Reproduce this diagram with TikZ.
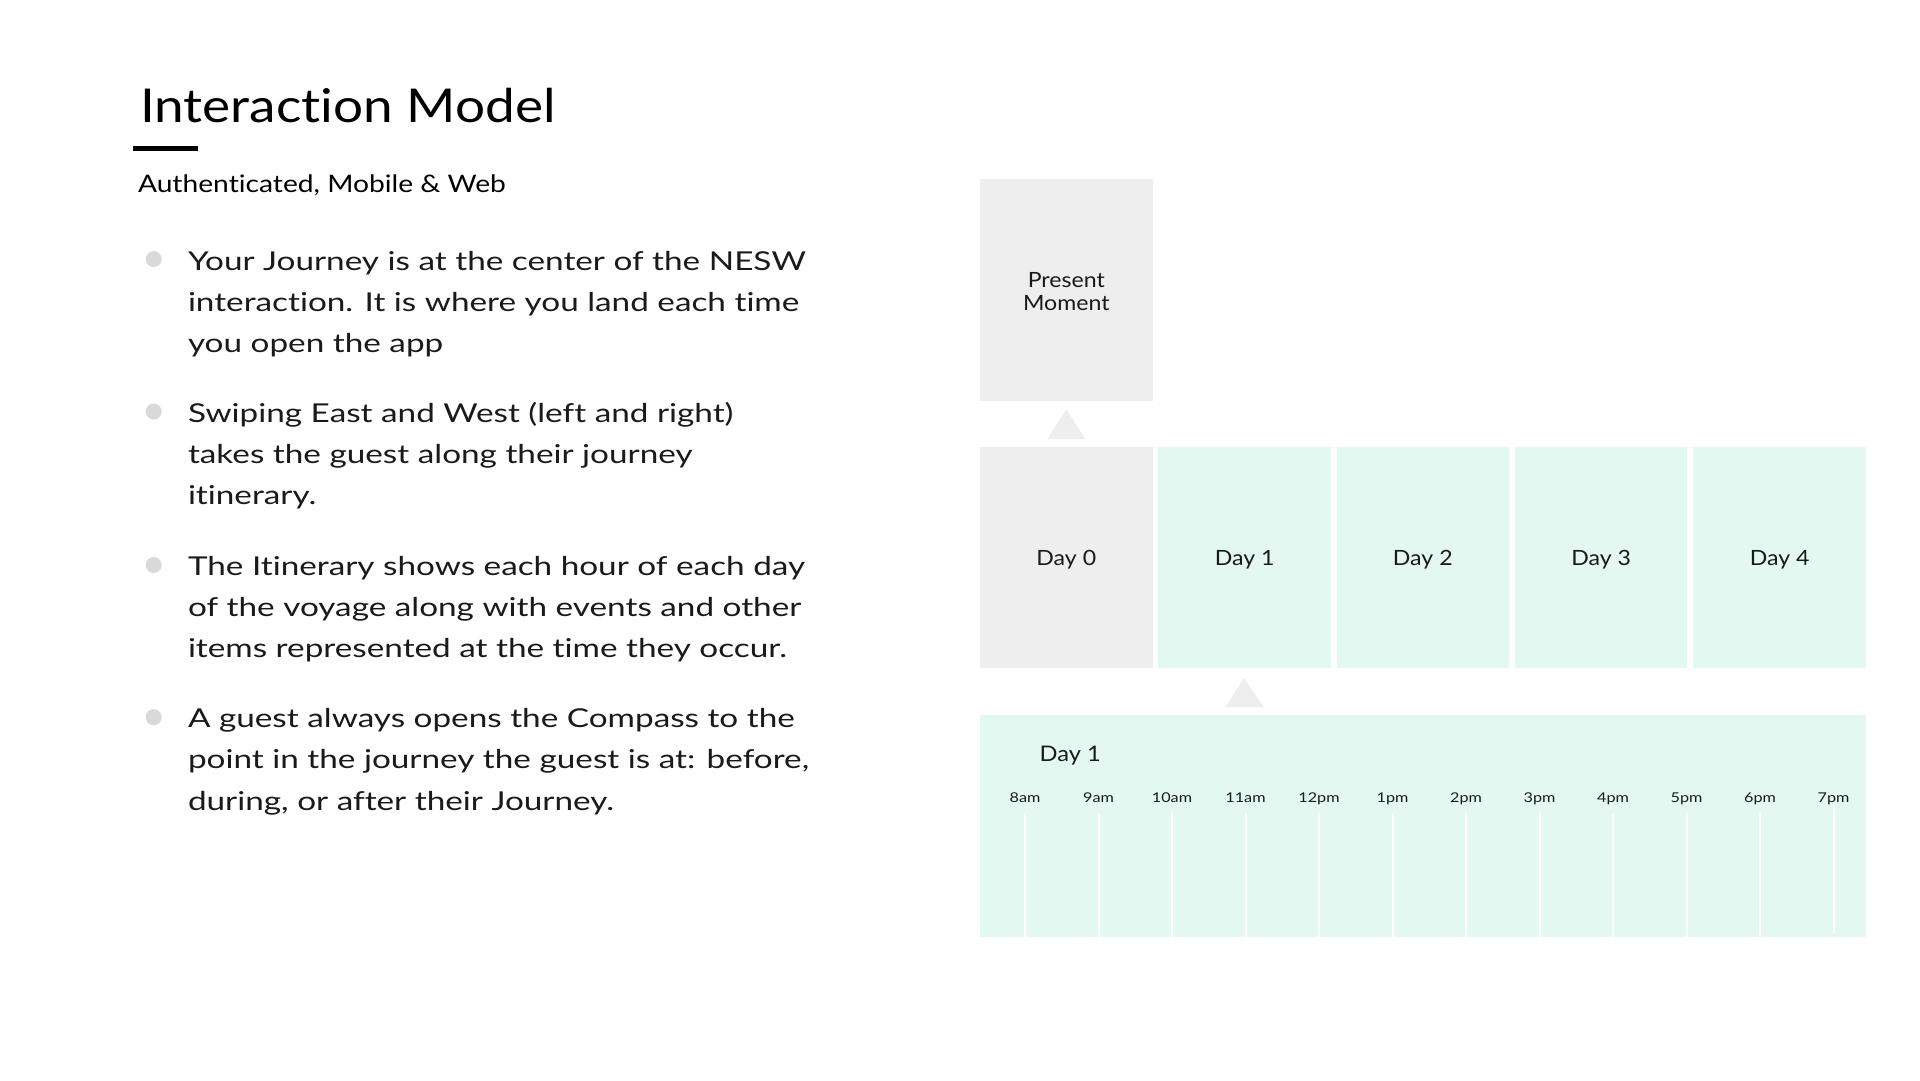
\documentclass[tikz,border=0pt]{standalone}
\usepackage{fontspec}
\usetikzlibrary{calc}
\newfontfamily\titlefont[FakeStretch=1.14,Ligatures=NoCommon]{Lato}
\newfontfamily\subfont[FakeStretch=1.17,Ligatures=NoCommon]{Lato}
\newfontfamily\bodyfont[FakeStretch=1.28,Ligatures=NoCommon]{Lato}
\newfontfamily\labelfont[FakeStretch=1.1,Ligatures=NoCommon]{Lato}
\newfontfamily\hourfont[FakeStretch=1.2,Ligatures=NoCommon]{Lato}
\definecolor{boxgray}{HTML}{EEEEEE}
\definecolor{boxgreen}{HTML}{E3F8F1}
\definecolor{dotgray}{HTML}{D9D9D9}
\definecolor{ink}{HTML}{1A1A1A}
\begin{document}
\begin{tikzpicture}[x=1pt,y=-1pt,
  txt/.style={anchor=base west,inner sep=0pt,outer sep=0pt,text=ink},
  bodyline/.style={txt,font=\bodyfont\fontsize{26}{26}\selectfont},
  dot/.style={circle,fill=dotgray,inner sep=0pt,minimum size=16pt},
  panel/.style={inner sep=0pt,outer sep=0pt,minimum width=172.6pt,minimum height=221.6pt},
  graypanel/.style={panel,fill=boxgray},
  greenpanel/.style={panel,fill=boxgreen},
  plabel/.style={anchor=base,inner sep=0pt,outer sep=0pt,text=ink,font=\labelfont\fontsize{21}{23.7}\selectfont,align=center},
  pointer/.style={fill=boxgray},
  hour/.style={anchor=base,inner sep=0pt,text=ink,font=\hourfont\fontsize{13.5}{13.5}\selectfont},
  tick/.style={draw=white,line width=2pt}
]
\useasboundingbox[fill=white] (0,0) rectangle (1920,1080);

% left column
\node[txt,font=\titlefont\fontsize{46.6}{46.6}\selectfont,text=black] (title) at (140,122.7) {Interaction Model};
\draw[line width=4.5pt,black] (133,148.3) -- (197.7,148.3);
\node[txt,font=\subfont\fontsize{24.1}{24.1}\selectfont,text=black] (sub) at (138,192.3) {Authenticated, Mobile \& Web};

\node[dot] (b1) at (153.7,259.1) {};
\node[bodyline] (l11) at (188,270.0) {Your Journey is at the center of the NESW};
\node[bodyline] (l12) at (188,311.1) {interaction. It is where you land each time};
\node[bodyline] (l13) at (188,352.2) {you open the app};

\node[dot] (b2) at (153.7,411.5) {};
\node[bodyline] (l21) at (188,422.4) {Swiping East and West (left and right)};
\node[bodyline] (l22) at (188,463.5) {takes the guest along their journey};
\node[bodyline] (l23) at (188,504.6) {itinerary.};

\node[dot] (b3) at (153.7,565.0) {};
\node[bodyline] (l31) at (188,575.6) {The Itinerary shows each hour of each day};
\node[bodyline] (l32) at (188,616.7) {of the voyage along with events and other};
\node[bodyline] (l33) at (188,657.8) {items represented at the time they occur.};

\node[dot] (b4) at (153.7,717.2) {};
\node[bodyline] (l41) at (188,727.8) {A guest always opens the Compass to the};
\node[bodyline] (l42) at (188,768.9) {point in the journey the guest is at: before,};
\node[bodyline] (l43) at (188,810.0) {during, or after their Journey.};

% right column
\node[graypanel] (pm) at (1066.3,289.9) {};
\node[plabel] (pmt) at (1066.3,310.7) {Present\\Moment};

\node[graypanel] (d0) at (1066.3,557.5) {};
\node[greenpanel] (d1) at (1244.6,557.5) {};
\node[greenpanel] (d2) at (1422.8,557.5) {};
\node[greenpanel] (d3) at (1601.1,557.5) {};
\node[greenpanel] (d4) at (1779.7,557.5) {};
\foreach \i in {0,...,4}{
  \node[plabel] (d\i t) at ($(d\i.center)+(0,8.3)$) {Day \i};
}

\fill[pointer] ($(d0.north)+(-18.9,-7.7)$) -- ($(d0.north)+(18.9,-7.7)$) -- ($(pm.south)+(0,8.6)$) -- cycle;

\node[inner sep=0pt,outer sep=0pt,fill=boxgreen,minimum width=886pt,minimum height=221.7pt] (tl) at (1423,825.85) {};
\coordinate (t2) at (tl.north -| d1.south);
\fill[pointer] ($(t2)+(-19,-8)$) -- ($(t2)+(19,-8)$) -- ($(d1.south)+(-0.6,9.8)$) -- cycle;

\node[txt,font=\labelfont\fontsize{21.5}{21.5}\selectfont] (tlabel) at (1039.6,761) {Day 1};

\foreach \lab [count=\i from 0] in {8am,9am,10am,11am,12pm,1pm,2pm,3pm,4pm,5pm,6pm,7pm}{
  \pgfmathsetmacro\hx{1025+73.5*\i}
  \node[hour] (h\i) at (\hx,802) {\lab};
}
\foreach \i in {0,...,10}{
  \draw[tick] ([yshift=-10.7pt]h\i.base) -- (h\i.base |- tl.south);
}
\draw[tick] ([yshift=-3pt]h11.base) -- ([yshift=4pt]h11.base |- tl.south);
\end{tikzpicture}
\end{document}
